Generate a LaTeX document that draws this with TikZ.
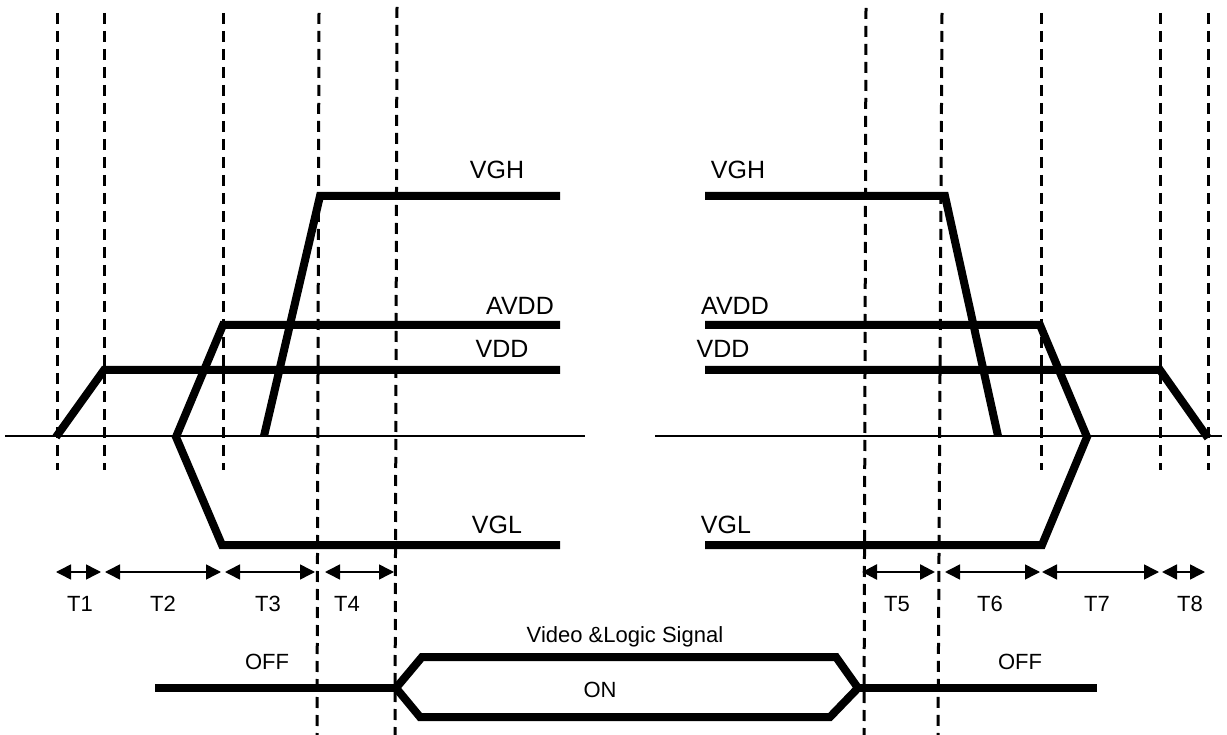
\documentclass[tikz,border=0pt]{standalone}
\usepackage{fontspec}
\setmainfont{Liberation Sans}
\usetikzlibrary{arrows.meta}
\begin{document}
\begin{tikzpicture}[x=1pt,y=-1pt,
  sig/.style={line width=8pt},
  guide/.style={line width=3pt,dash pattern=on 11pt off 7pt},
  span/.style={line width=1.5pt,{Triangle[length=15pt,width=15pt]}-{Triangle[length=15pt,width=15pt]}},
  lbl/.style={font=\fontsize{22}{26}\selectfont,inner sep=0pt},
  rail/.style={font=\fontsize{25}{30}\selectfont,inner sep=0pt}]
\useasboundingbox (0,0) rectangle (1227,735);
%grid
%\draw[gray,thin,step=50] (0,0) grid (1227,735);
%

%guides
\draw[guide] (57,13)--(57,470);
\draw[guide] (104,13)--(104,470);
\draw[guide] (223,13)--(223,470);
\draw[guide] (319,13)--(317,735);
\draw[guide] (397,7)--(395,735);
\draw[guide] (866,8)--(864,735);
\draw[guide] (942,13)--(938,735);
\draw[guide] (1041,13)--(1041,470);
\draw[guide] (1160,13)--(1160,470);
\draw[guide] (1208,13)--(1208,470);

%axis
\draw[line width=1.5pt] (5,436)--(585,436);
\draw[line width=1.5pt] (655,436)--(1222,436);

%power up
\draw[sig] (56,437)--(104,370)--(560,370);
\draw[sig] (560,325)--(223,325)--(176,437)--(222,545)--(560,545);
\draw[sig] (264,436)--(320,196)--(560,196);
%power down
\draw[sig] (705,196)--(945,196)--(998,436);
\draw[sig] (705,325)--(1040,325)--(1087,437)--(1042,545)--(705,545);
\draw[sig] (705,370)--(1160,370)--(1208,438);

%labels
\node[rail] (vghL) at (497,170) {VGH};
\node[rail] (avddL) at (520,306) {AVDD};
\node[rail] (vddL) at (502,349) {VDD};
\node[rail] (vglL) at (497,525) {VGL};
\node[rail] (vghR) at (738,170) {VGH};
\node[rail] (avddR) at (735,306) {AVDD};
\node[rail] (vddR) at (723,349) {VDD};
\node[rail] (vglR) at (726,525) {VGL};

%timing
\draw[span] (56,572)--(101,572);
\draw[span] (105,572)--(221,572);
\draw[span] (225,572)--(315,572);
\draw[span] (325,572)--(394,572);
\draw[span,line width=2.5pt] (862,572)--(935,572);
\draw[span] (945,572)--(1040,572);
\draw[span] (1042,572)--(1159,572);
\draw[span] (1162,572)--(1205,572);
\node[lbl] (t1) at (80,604) {T1};
\node[lbl] (t2) at (163,604) {T2};
\node[lbl] (t3) at (268,604) {T3};
\node[lbl] (t4) at (347,604) {T4};
\node[lbl] (t5) at (897,604) {T5};
\node[lbl] (t6) at (990,604) {T6};
\node[lbl] (t7) at (1097,604) {T7};
\node[lbl] (t8) at (1190,604) {T8};

%signal
\node[lbl] (video) at (625,637) {Video \&Logic Signal};
\draw[sig] (155,688)--(396,688);
\draw[sig] (396,688)--(422,657)--(836,657)--(858,688)--(830,717)--(420,717)--cycle;
\draw[sig] (858,688)--(1097,688);
\node[lbl] (offL) at (267,662) {OFF};
\node[lbl] (on) at (600,690) {ON};
\node[lbl] (offR) at (1020,662) {OFF};
\end{tikzpicture}
\end{document}
